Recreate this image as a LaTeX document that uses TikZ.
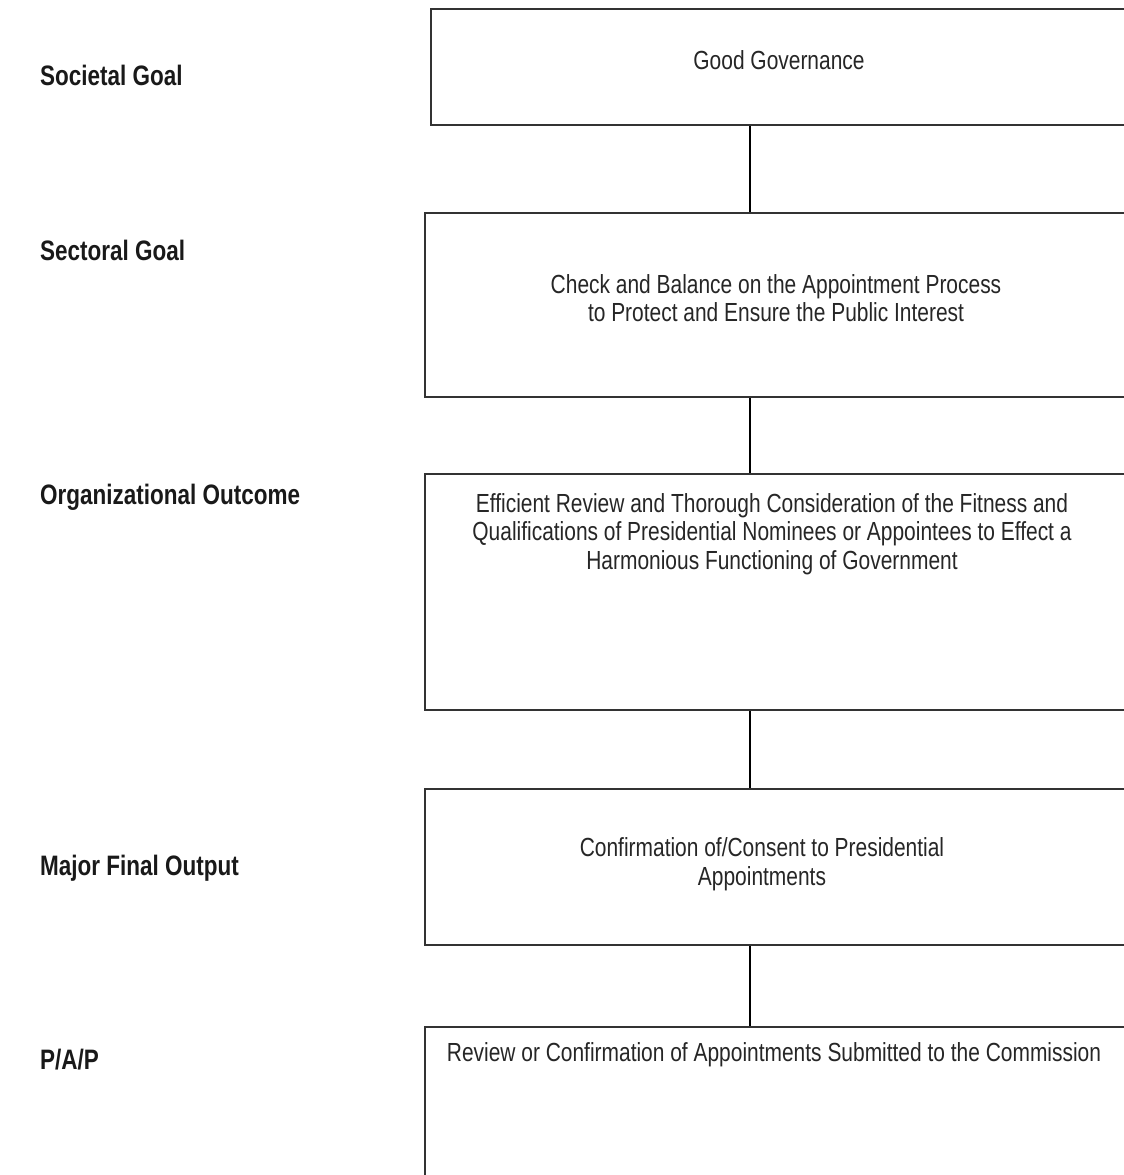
\documentclass[tikz,border=0pt]{standalone}
\usepackage{fontspec}
\setmainfont{Liberation Sans}
\newfontfamily\narrowfont[FakeStretch=0.8]{Liberation Sans}
\begin{document}
\begin{tikzpicture}[
    x=0.02cm, y=-0.02cm,
    stage/.style={draw=black!80, line width=1.4pt, rectangle, minimum width=14.4cm, anchor=north west},
    stagetext/.style={align=center, text=black!85, font=\narrowfont\fontsize{14.9}{16.3}\selectfont},
    level/.style={anchor=west, text=black!90, font=\narrowfont\bfseries\fontsize{16}{18}\selectfont},
    link/.style={draw=black, line width=1.1pt}
]
    \useasboundingbox (0,0) rectangle (1124,1175);
    \clip (0,0) rectangle (1124,1175);

    % Levels on the left
    \node[level] (lsoc) at (34,75) {Societal Goal};
    \node[level] (lsec) at (34,250) {Sectoral Goal};
    \node[level] (lorg) at (34,497) {Organizational Outcome};
    \node[level] (lmfo) at (34,868) {Major Final Output};
    \node[level] (lpap) at (34,1060) {P/A/P};

    % Boxes
    \node[stage, minimum height=2.32cm] (soc) at (430,8) {};
    \node[stage, minimum height=3.68cm] (sec) at (424,212) {};
    \node[stage, minimum height=4.72cm] (org) at (424,473) {};
    \node[stage, minimum height=3.12cm] (mfo) at (424,788) {};
    \node[stage, minimum height=3.4cm] (pap) at (424,1026) {};

    % Box texts
    \node[stagetext] (tsoc) at (779,60) {Good Governance};
    \node[stagetext] (tsec) at (776,298) {Check and Balance on the Appointment Process\\to Protect and Ensure the Public Interest};
    \node[stagetext] (torg) at (772,534) {Efficient Review and Thorough Consideration of the Fitness and\\Qualifications of Presidential Nominees or Appointees to Effect a\\Harmonious Functioning of Government};
    \node[stagetext] (tmfo) at (762,864) {Confirmation of/Consent to Presidential\\Appointments};
    \node[stagetext] (tpap) at (774,1055) {Review or Confirmation of Appointments Submitted to the Commission};

    % Connectors
    \coordinate (spine) at (750,0);
    \draw[link] (soc.south -| spine) -- (sec.north -| spine);
    \draw[link] (sec.south -| spine) -- (org.north -| spine);
    \draw[link] (org.south -| spine) -- (mfo.north -| spine);
    \draw[link] (mfo.south -| spine) -- (pap.north -| spine);
\end{tikzpicture}
\end{document}
